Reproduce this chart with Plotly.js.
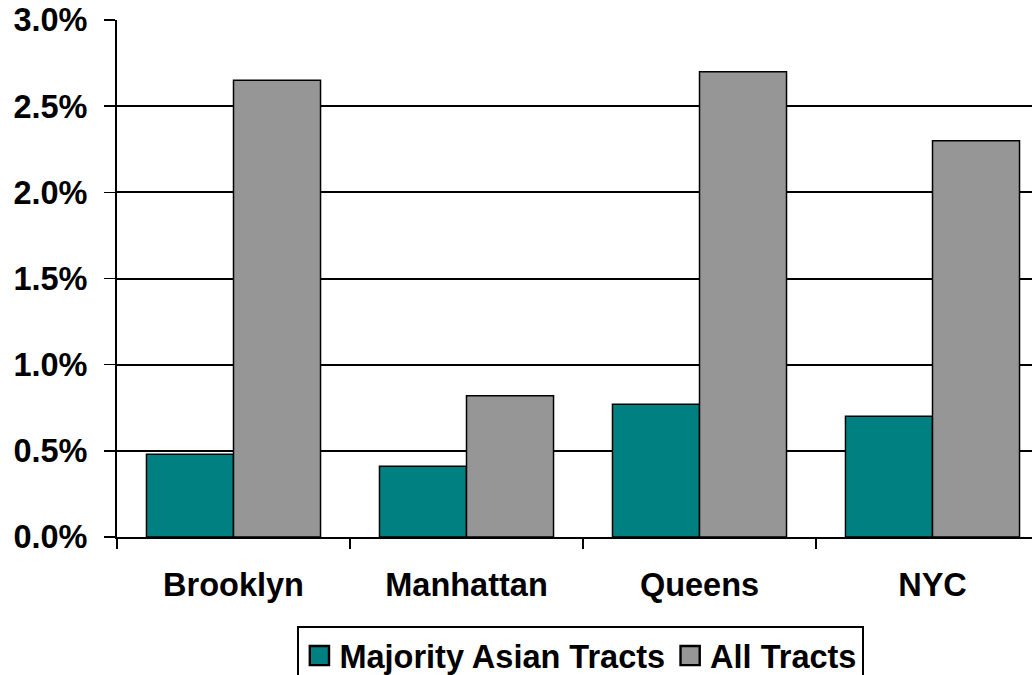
<!DOCTYPE html>
<html>
<head>
<meta charset="utf-8">
<script src="https://cdn.plot.ly/plotly-3.0.1.min.js"></script>
<style>html,body{margin:0;padding:0;background:#fff;}#chart{width:1032px;height:675px;}</style>
</head>
<body>
<div id="chart"></div>
<script>
const categories = ["Brooklyn", "Manhattan", "Queens", "NYC"];
const majorityAsian = [0.48, 0.41, 0.77, 0.70];
const allTracts = [2.65, 0.82, 2.70, 2.30];
const yTickVals = [0, 0.5, 1.0, 1.5, 2.0, 2.5, 3.0];
const yTickText = ["0.0%", "0.5%", "1.0%", "1.5%", "2.0%", "2.5%", "3.0%"];

const fontFam = "Liberation Sans, Arial, sans-serif";

const traces = [
  {type: "bar", name: "Majority Asian Tracts", x: categories, y: majorityAsian,
   marker: {color: "#008080", line: {color: "#000", width: 1.5}}, hoverinfo: "x+y"},
  {type: "bar", name: "All Tracts", x: categories, y: allTracts,
   marker: {color: "#969696", line: {color: "#000", width: 1.5}}, hoverinfo: "x+y"}
];

const layout = {
  width: 1032, height: 675,
  margin: {l: 117, r: 0, t: 20, b: 138, pad: 0, autoexpand: false},
  paper_bgcolor: "#fff", plot_bgcolor: "#fff",
  barmode: "group", bargap: 0.253, bargroupgap: 0,
  font: {family: fontFam, size: 32, color: "#000", weight: "bold"},
  showlegend: true,
  legend: {orientation: "h", x: 0.507, xanchor: "center", y: -0.172, yanchor: "top",
           bordercolor: "#000", borderwidth: 2, bgcolor: "#fff",
           font: {family: fontFam, size: 32.5, color: "#000", weight: "bold"},
           traceorder: "normal", itemwidth: 30},
  xaxis: {type: "category", range: [-0.5, 3.427], tickson: "boundaries",
          ticks: "outside", ticklen: 10, tickwidth: 1.5, tickcolor: "#000",
          showline: true, linecolor: "#000", linewidth: 2, showgrid: false,
          ticklabelstandoff: 18, zeroline: false,
          tickfont: {family: fontFam, size: 32.5, color: "#000", weight: "bold"}},
  yaxis: {range: [0, 3.0], tickvals: yTickVals, ticktext: yTickText,
          ticks: "outside", ticklen: 11, tickwidth: 1.5, tickcolor: "#000",
          showline: true, linecolor: "#000", linewidth: 2,
          showgrid: true, gridcolor: "#000", gridwidth: 2, zeroline: false,
          ticklabelstandoff: 10,
          tickfont: {family: fontFam, size: 32.5, color: "#000", weight: "bold"}}
};

Plotly.newPlot("chart", traces, layout, {displayModeBar: false, staticPlot: true}).then(function(gd){
  document.querySelectorAll("#chart .legend .legendpoints path").forEach(function(p){
    p.setAttribute("transform", (p.getAttribute("transform") || "") + " scale(1.6)");
  });
});
</script>
</body>
</html>
